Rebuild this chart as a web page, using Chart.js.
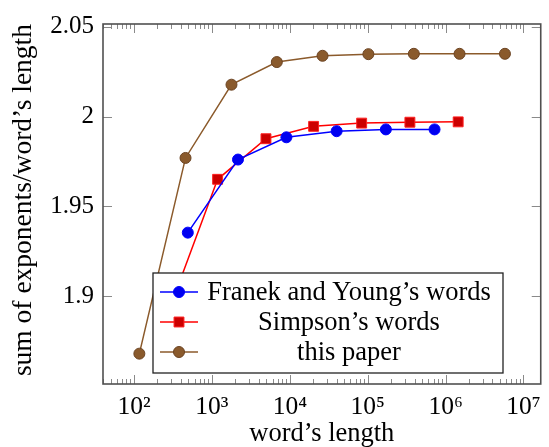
<!DOCTYPE html>
<html>
<head>
<meta charset="utf-8">
<script src="https://cdn.jsdelivr.net/npm/chart.js@4.4.1/dist/chart.umd.min.js"></script>
<style>
  html, body { margin: 0; padding: 0; background: #fff; }
</style>
</head>
<body>
<canvas id="grafico" width="549" height="447"></canvas>
<script>
// valores
const franekLen = [490, 2160, 9040, 39900, 171000, 721000];
const franekVal = [1.9354, 1.9761, 1.9885, 1.9919, 1.9929, 1.9929];
const simpsonLen = [286, 1183, 4940, 20200, 83600, 348000, 1450000];
const simpsonVal = [1.893, 1.9651, 1.9877, 1.9946, 1.9964, 1.9969, 1.9971];
const paperLen = [117, 458, 1782, 6810, 26300, 102000, 391000, 1510000, 5780000];
const paperVal = [1.868, 1.977, 2.0178, 2.0304, 2.0339, 2.0348, 2.035, 2.035, 2.035];
const xTicks = [100, 1000, 10000, 100000, 1000000, 10000000];
const yTicks = [1.9, 1.95, 2, 2.05];
const nomes = ['Franek and Young’s words', 'Simpson’s words', 'this paper'];

const sup = ['⁰', '¹', '²', '³', '⁴', '⁵', '⁶', '⁷', '⁸', '⁹'];
const pontos = (xs, ys) => xs.map((v, i) => ({ x: v, y: ys[i] }));

Chart.defaults.font.family = "'Liberation Serif', serif";
Chart.defaults.color = '#000';

// moldura e marcas internas dos eixos
const moldura = {
  id: 'moldura',
  afterDatasetsDraw(chart) {
    const { ctx, chartArea: a, scales: { x, y } } = chart;
    ctx.save();
    ctx.strokeStyle = '#8a8a8a';
    ctx.lineWidth = 1;
    ctx.beginPath();
    for (let k = 1; k <= 7; k++) {
      for (let m = 1; m <= 9; m++) {
        const v = m * Math.pow(10, k);
        if (v < x.min || v > x.max) continue;
        const px = Math.round(x.getPixelForValue(v)) + 0.5;
        const len = m === 1 ? 9 : 5;
        ctx.moveTo(px, a.bottom); ctx.lineTo(px, a.bottom - len);
        ctx.moveTo(px, a.top); ctx.lineTo(px, a.top + len);
      }
    }
    yTicks.forEach(v => {
      const py = Math.round(y.getPixelForValue(v)) + 0.5;
      ctx.moveTo(a.left, py); ctx.lineTo(a.left + 9, py);
      ctx.moveTo(a.right, py); ctx.lineTo(a.right - 9, py);
    });
    ctx.stroke();
    ctx.strokeStyle = '#505050';
    ctx.lineWidth = 1.6;
    ctx.strokeRect(a.left, a.top, a.right - a.left, a.bottom - a.top);
    ctx.restore();
  }
};

// legenda dentro da área do gráfico
const legenda = {
  id: 'legenda',
  afterDraw(chart) {
    const { ctx, chartArea: a } = chart;
    const bx = a.left + 50, by = a.bottom - 111, bw = 350, bh = 100;
    ctx.save();
    ctx.fillStyle = '#fff';
    ctx.fillRect(bx, by, bw, bh);
    ctx.strokeStyle = '#222';
    ctx.lineWidth = 1.3;
    ctx.strokeRect(bx, by, bw, bh);
    chart.data.datasets.forEach((ds, i) => {
      const cy = by + 19 + i * 30;
      ctx.strokeStyle = ds.borderColor;
      ctx.lineWidth = ds.borderWidth;
      ctx.beginPath();
      ctx.moveTo(bx + 7, cy); ctx.lineTo(bx + 45, cy);
      ctx.stroke();
      ctx.fillStyle = ds.pointBackgroundColor;
      ctx.strokeStyle = ds.pointBorderColor;
      ctx.lineWidth = ds.pointBorderWidth;
      Chart.helpers.drawPoint(ctx, {
        pointStyle: ds.pointStyle, radius: ds.pointRadius,
        borderWidth: ds.pointBorderWidth, rotation: 0
      }, bx + 26, cy);
      ctx.fillStyle = '#000';
      ctx.font = "26.5px 'Liberation Serif', serif";
      ctx.textAlign = 'center';
      ctx.textBaseline = 'middle';
      ctx.fillText(ds.label, bx + 196, cy + 1);
    });
    ctx.restore();
  }
};

new Chart(document.getElementById('grafico').getContext('2d'), {
  type: 'line',
  data: {
    datasets: [{
      label: nomes[0],
      data: pontos(franekLen, franekVal),
      borderColor: '#0000ff',
      borderWidth: 1.5,
      pointStyle: 'circle',
      pointRadius: 5.5,
      pointBackgroundColor: '#0000f0',
      pointBorderColor: '#0000ff',
      pointBorderWidth: 1
    }, {
      label: nomes[1],
      data: pontos(simpsonLen, simpsonVal),
      borderColor: '#ff0000',
      borderWidth: 1.5,
      pointStyle: 'rect',
      pointRadius: 7,
      pointBackgroundColor: '#cc0000',
      pointBorderColor: '#ff2020',
      pointBorderWidth: 1
    }, {
      label: nomes[2],
      data: pontos(paperLen, paperVal),
      borderColor: '#8b5a2b',
      borderWidth: 1.5,
      pointStyle: 'circle',
      pointRadius: 5.5,
      pointBackgroundColor: '#8a5a2c',
      pointBorderColor: '#6b4322',
      pointBorderWidth: 1
    }]
  },
  options: {
    responsive: false,
    animation: false,
    tension: 0,
    layout: { padding: { top: 15, right: 2, left: 0, bottom: 0 } },
    plugins: { legend: { display: false }, tooltip: { enabled: false } },
    scales: {
      x: {
        type: 'logarithmic',
        min: 39.94,
        max: 1.665e7,
        grid: { display: false, drawTicks: false },
        border: { display: false },
        afterBuildTicks: s => { s.ticks = xTicks.map(v => ({ value: v })); },
        afterFit: s => { s.height = 63; },
        ticks: {
          font: { size: 25.5 },
          padding: 8,
          maxRotation: 0,
          autoSkip: false,
          callback: v => '10' + String(Math.round(Math.log10(v))).split('').map(d => sup[+d]).join('')
        },
        title: { display: true, text: 'word’s length', font: { size: 26.5, lineHeight: 1 }, padding: 0 }
      },
      y: {
        type: 'linear',
        min: 1.8511,
        max: 2.0516,
        grid: { display: false, drawTicks: false },
        border: { display: false },
        afterBuildTicks: s => { s.ticks = yTicks.map(v => ({ value: v })); },
        afterFit: s => { s.width = 103; },
        ticks: { font: { size: 25 }, padding: 9, callback: v => String(v) },
        title: {
          display: true, align: 'end', text: 'sum of exponents/word’s length',
          font: { size: 27.5, lineHeight: 1 }, padding: { top: 10, bottom: 0 }
        }
      }
    }
  },
  plugins: [moldura, legenda]
});
</script>
</body>
</html>
